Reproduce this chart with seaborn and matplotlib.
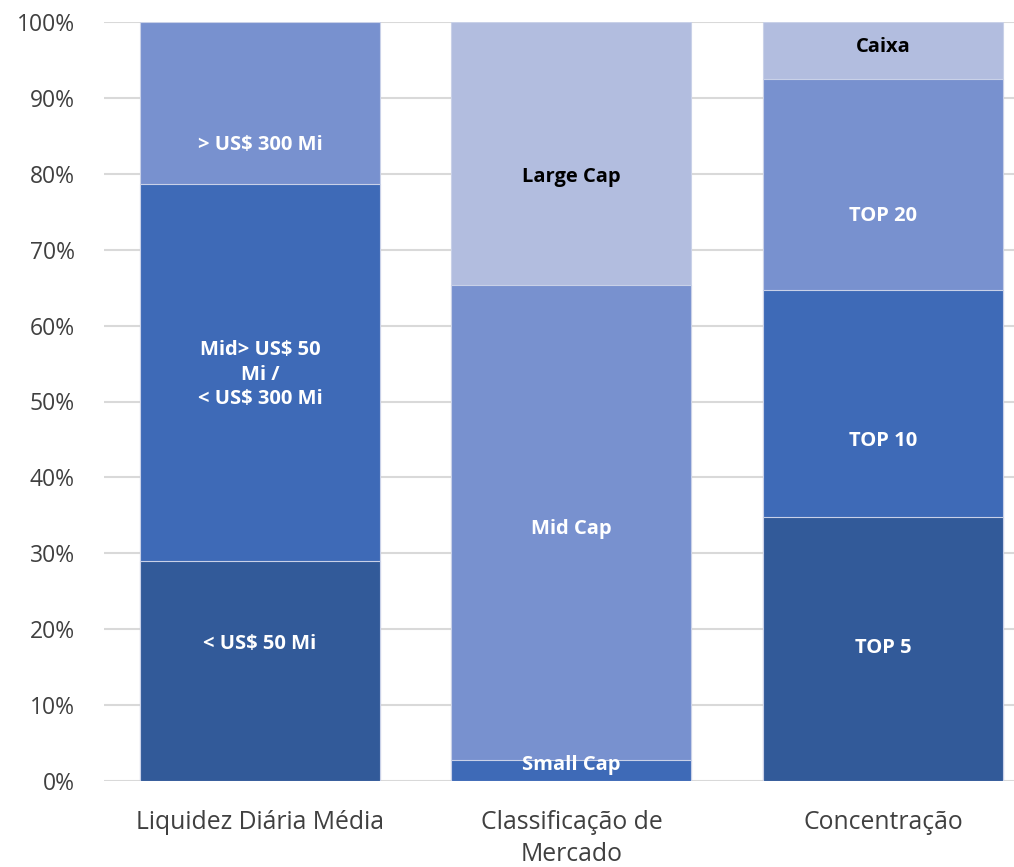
import numpy as np
import matplotlib
matplotlib.use('Agg')
import matplotlib.pyplot as plt
import pandas as pd
import seaborn as sns

# data
categories = ['Liquidez Diária Média', 'Classificação de\nMercado', 'Concentração']
seg_labels = [
    ['< US$ 50 Mi', 'Mid> US$ 50\nMi /\n< US$ 300 Mi', '> US$ 300 Mi'],
    ['Small Cap', 'Mid Cap', 'Large Cap'],
    ['TOP 5', 'TOP 10', 'TOP 20', 'Caixa'],
]
seg_values = [
    [29.0, 49.7, 21.3],
    [2.8, 62.5, 34.7],
    [34.8, 29.9, 27.8, 7.5],
]
seg_colors = [
    ['#325a99', '#3e6ab7', '#7891cf'],
    ['#3e6ab7', '#7891cf', '#b2bddf'],
    ['#325a99', '#3e6ab7', '#7891cf', '#b2bddf'],
]
text_colors = [
    ['white', 'white', 'white'],
    ['white', 'white', 'black'],
    ['white', 'white', 'white', 'black'],
]
# where the labels sit relative to the middle of their segment (percentage points)
label_shift = [
    [3.6, -0.3, -5.5],
    [0.7, -0.8, -3.1],
    [0.1, -4.9, -4.1, 0.4],
]

rows = []
for i, cat in enumerate(categories):
    bottom = 0
    for j, v in enumerate(seg_values[i]):
        rows.append(dict(categ=cat, level=j, value=v, bottom=bottom, top=bottom + v,
                         label=seg_labels[i][j], color=seg_colors[i][j],
                         tcolor=text_colors[i][j], shift=label_shift[i][j]))
        bottom += v
df = pd.DataFrame(rows)

sns.set_style('white')
plt.rcParams['font.family'] = ['Open Sans', 'DejaVu Sans']

fig = plt.figure(figsize=(10.14, 8.67), dpi=100)
ax = fig.add_axes([104 / 1014, 86 / 867, 1 - 104 / 1014, 759 / 867])

ax.set_axisbelow(True)
ax.yaxis.grid(True, color='#d9d9d9', linewidth=1.5)

# stacked look: draw cumulative bars from the top level down, each one covers the lower part
for lvl in sorted(df.level.unique(), reverse=True):
    d = df[df.level == lvl]
    sns.barplot(data=d, x='categ', y='top', order=categories, ax=ax,
                width=0.77, hue='categ', hue_order=list(d['categ']),
                palette=list(d['color']), legend=False,
                edgecolor='#c9d1e8', linewidth=0.8, saturation=1)

for _, r in df.iterrows():
    x = categories.index(r['categ'])
    y = r['bottom'] + r['value'] / 2 + r['shift']
    ax.text(x, y, r['label'], ha='center', va='center', color=r['tcolor'],
            fontsize=14.5, fontweight='bold', linespacing=1.3)

ax.set_ylim(0, 100)
ax.set_xlim(-0.5, 2.42)
ax.set_yticks(np.arange(0, 101, 10))
ax.set_yticklabels([f'{t}%' for t in range(0, 101, 10)])
ax.tick_params(axis='y', length=0, pad=21, labelsize=16.5, labelcolor='#404040')
ax.tick_params(axis='x', length=0, pad=21, labelsize=17.8, labelcolor='#404040')
for t in ax.get_xticklabels():
    t.set_linespacing(1.35)
ax.set_xlabel('')
ax.set_ylabel('')
for s in ax.spines.values():
    s.set_visible(False)

fig.savefig('out.png', dpi=100)
